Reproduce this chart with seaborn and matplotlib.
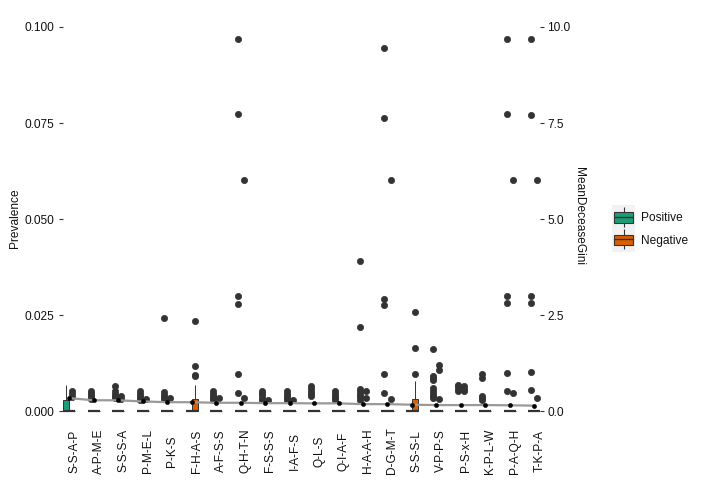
import numpy as np
import pandas as pd
import matplotlib
matplotlib.use('Agg')
import matplotlib.pyplot as plt
import seaborn as sns
from matplotlib.patches import Patch, Rectangle
from matplotlib.lines import Line2D
from matplotlib.transforms import ScaledTranslation

# --- values ---
categories = ['S-S-A-P', 'A-P-M-E', 'S-S-S-A', 'P-M-E-L', 'P-K-S', 'F-H-A-S', 'A-F-S-S',
              'Q-H-T-N', 'F-S-S-S', 'I-A-F-S', 'Q-L-S', 'Q-I-A-F', 'H-A-A-H', 'D-G-M-T',
              'S-S-S-L', 'V-P-P-S', 'P-S-x-H', 'K-P-L-W', 'P-A-Q-H', 'T-K-P-A']
groups = ['Positive', 'Negative']
colors = ['#1B9E77', '#D95F02']

# outlying prevalence values per category (the bulk of each group sits at 0)
pos_outliers = [
    [],
    [0.0052, 0.0047, 0.0042, 0.0037, 0.0033],
    [0.0065, 0.0052, 0.0046, 0.0040, 0.0034],
    [0.0052, 0.0046, 0.0040, 0.0035, 0.0031],
    [0.0243, 0.0050, 0.0044, 0.0038, 0.0032],
    [],
    [0.0052, 0.0046, 0.0040, 0.0035, 0.0031],
    [0.0970, 0.0773, 0.0300, 0.0280, 0.0098, 0.0049],
    [0.0054, 0.0048, 0.0042, 0.0036, 0.0031],
    [0.0052, 0.0046, 0.0040, 0.0035, 0.0031],
    [0.0065, 0.0058, 0.0051, 0.0045, 0.0039],
    [0.0052, 0.0046, 0.0040, 0.0035, 0.0031],
    [0.0390, 0.0220, 0.0059, 0.0050, 0.0044, 0.0037, 0.0031],
    [0.0945, 0.0763, 0.0293, 0.0277, 0.0098, 0.0049],
    [],
    [0.0163, 0.0093, 0.0087, 0.0081, 0.0060, 0.0053, 0.0046, 0.0040, 0.0034],
    [0.0070, 0.0065, 0.0059, 0.0052],
    [0.0098, 0.0088, 0.0039, 0.0035, 0.0031],
    [0.0970, 0.0773, 0.0300, 0.0282, 0.0100, 0.0054],
    [0.0970, 0.0771, 0.0301, 0.0282, 0.0102, 0.0055],
]
neg_outliers = [
    [0.0052, 0.0045, 0.0038],
    [],
    [0.0040, 0.0032],
    [0.0032],
    [0.0034],
    [0.0235, 0.0119, 0.0095, 0.0091],
    [0.0036],
    [0.0602, 0.0036],
    [0.0031],
    [0.0031],
    [],
    [],
    [0.0054, 0.0036],
    [0.0602, 0.0033],
    [0.0259, 0.0165, 0.0098],
    [0.0122, 0.0108, 0.0033],
    [0.0065, 0.0058, 0.0052],
    [],
    [0.0602, 0.0049],
    [0.0602, 0.0036],
]

# the three boxes that are not flat (q1 = median = 0, q3 and whisker top read off)
ssap_pos_body = [0, 0, 0, 0, 0, 0.003, 0.003, 0.0068]
fhas_neg_body = [0] * 11 + [0.001, 0.002, 0.003, 0.0032, 0.0032, 0.0068]
sssl_neg_body = [0] * 11 + [0.001, 0.002, 0.003, 0.0033, 0.0033, 0.0078]
n_zero = 40

gini = [0.345, 0.29, 0.29, 0.26, 0.24, 0.24, 0.225, 0.225, 0.215, 0.215,
        0.21, 0.21, 0.19, 0.19, 0.175, 0.165, 0.165, 0.165, 0.16, 0.15]

# --- long table for seaborn ---
bodies = {('S-S-A-P', 'Positive'): ssap_pos_body,
          ('F-H-A-S', 'Negative'): fhas_neg_body,
          ('S-S-S-L', 'Negative'): sssl_neg_body}
rows = []
for i, cat in enumerate(categories):
    for grp, outs in zip(groups, [pos_outliers[i], neg_outliers[i]]):
        vals = bodies.get((cat, grp), [0.0] * n_zero) + outs
        rows += [(cat, grp, v) for v in vals]
df = pd.DataFrame(rows, columns=['Category', 'Group', 'Prevalence'])

# --- plot ---
sns.set_style('white')
plt.rcParams['font.family'] = ['Liberation Sans', 'DejaVu Sans']
fs = 8.6
txt = '#111111'

fig = plt.figure(figsize=(7.05, 4.94), dpi=100)
ax = fig.add_axes([63.2 / 705, 0.1294, (540.4 - 63.2) / 705, 0.8304])

sns.boxplot(data=df, x='Category', y='Prevalence', hue='Group', order=categories,
            hue_order=groups, palette=colors, saturation=1, width=0.5, gap=0, dodge=True,
            linecolor='#333333', linewidth=0.7, fliersize=4.5, showcaps=False,
            flierprops=dict(marker='o', markerfacecolor='#333333', markeredgecolor='#333333',
                            markeredgewidth=0.5),
            medianprops=dict(linewidth=1.6), legend=False, ax=ax)

ylo, yhi = -0.00485, 0.10185
ax.set_xlim(-0.25, len(categories) - 0.75)
ax.set_ylim(ylo, yhi)
ax.set_yticks([0, 0.025, 0.05, 0.075, 0.1])
ax.set_yticklabels(['0.000', '0.025', '0.050', '0.075', '0.100'])
ax.set_xlabel('')
ax.set_ylabel('Prevalence', fontsize=fs, color=txt)
ax.yaxis.set_label_coords(-0.088, 0.517)
ax.tick_params(axis='y', length=2.7, width=0.8, color='#333333', pad=4,
               labelsize=fs, labelcolor=txt)
ax.tick_params(axis='x', length=0, pad=15, labelsize=fs, labelcolor=txt)
for lab in ax.get_xticklabels():
    lab.set_rotation(90)
    lab.set_ha('center')
    lab.set_va('center')
    lab.set_transform(lab.get_transform() + ScaledTranslation(0.05, 0, fig.dpi_scale_trans))
for s in ax.spines.values():
    s.set_visible(False)

# MeanDeceaseGini on the secondary axis
ax2 = ax.twinx()
xpos = np.arange(len(categories))
sns.lineplot(x=xpos, y=gini, color='#999999', linewidth=1.6, ax=ax2)
sns.scatterplot(x=xpos, y=gini, color='black', edgecolor='black', s=10, zorder=3, ax=ax2)
ax2.set_xlim(-0.25, len(categories) - 0.75)
ax2.set_ylim(ylo * 100, yhi * 100)
ax2.set_yticks([0, 2.5, 5, 7.5, 10])
ax2.set_yticklabels(['0.0', '2.5', '5.0', '7.5', '10.0'])
ax2.set_ylabel('MeanDeceaseGini', fontsize=fs, color=txt, rotation=270, va='center')
ax2.yaxis.set_label_coords(1.081, 0.522)
ax2.tick_params(axis='y', length=2.7, width=0.8, color='#333333', pad=2.2,
                labelsize=fs, labelcolor=txt)
for s in ax2.spines.values():
    s.set_visible(False)

# legend with box-like keys on a grey key background
fig.add_artist(Rectangle((612 / 705, 1 - 252 / 494), 23 / 705, 47 / 494,
                         transform=fig.transFigure, facecolor='#F2F2F2',
                         edgecolor='none', zorder=0))
handles = []
for c in colors:
    whisk = Line2D([], [], marker='|', markersize=15, markeredgewidth=0.8,
                   color='#333333', linestyle='none')
    box = Patch(facecolor=c, edgecolor='#333333', linewidth=0.8)
    med = Line2D([], [], color='#333333', linewidth=1.0)
    handles.append((whisk, box, med))
fig.legend(handles, groups, loc='center left', bbox_to_anchor=(614 / 705, 1 - 229.5 / 494),
           frameon=False, fontsize=fs, handlelength=1.6, handleheight=1.0,
           handletextpad=0.7, labelspacing=0.85, borderpad=0, borderaxespad=0,
           labelcolor=txt)

plt.savefig('out.png', dpi=100)
